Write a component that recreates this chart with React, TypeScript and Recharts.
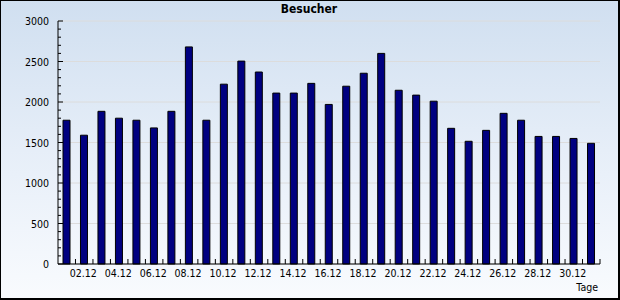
import { BarChart, Bar, XAxis, YAxis, CartesianGrid } from 'recharts'

const days = [
  '01.12', '02.12', '03.12', '04.12', '05.12', '06.12', '07.12', '08.12',
  '09.12', '10.12', '11.12', '12.12', '13.12', '14.12', '15.12', '16.12',
  '17.12', '18.12', '19.12', '20.12', '21.12', '22.12', '23.12', '24.12',
  '25.12', '26.12', '27.12', '28.12', '29.12', '30.12', '31.12',
]

const visitors = [
  1775, 1590, 1885, 1800, 1775, 1680, 1885, 2680, 1775, 2220, 2505,
  2370, 2110, 2110, 2230, 1970, 2195, 2355, 2600, 2145, 2085, 2010,
  1675, 1515, 1650, 1860, 1775, 1575, 1575, 1550, 1490,
]

const majorTicks = [0, 500, 1000, 1500, 2000, 2500, 3000]

// Zwischenstriche alle 100
const allTicks: number[] = []
majorTicks.forEach((t, i) => {
  allTicks.push(t)
  if (i < majorTicks.length - 1) {
    for (let k = 1; k < 5; k++) allTicks.push(t + k * 100)
  }
})

const data = days.map((day, i) => ({ day, value: visitors[i] }))

const FONT = '"DejaVu Sans Condensed", "Liberation Sans", sans-serif'

function YTick(props: any) {
  const { x, y, payload } = props
  const major = majorTicks.includes(payload.value)
  return (
    <g>
      <line x1={x} x2={x + (major ? 5 : 3)} y1={y} y2={y} stroke="#000" />
      {major && (
        <text x={x - 9} y={y} dy={4} textAnchor="end" fontSize={10.5} fontFamily={FONT} fill="#000">
          {payload.value}
        </text>
      )}
    </g>
  )
}

function XTick(props: any) {
  const { x, y, payload, index } = props
  const half = payload.offset ?? 8.74
  return (
    <g>
      <line x1={x + half} x2={x + half} y1={y} y2={y - 5} stroke="#000" />
      {index % 2 === 1 && (
        <text x={x - 1} y={y} dy={13} textAnchor="middle" fontSize={10.5} fontFamily={FONT} fill="#000">
          {payload.value}
        </text>
      )}
    </g>
  )
}

export default function App() {
  return (
    <div
      style={{
        position: 'absolute',
        left: 0,
        top: 0,
        width: 620,
        height: 300,
        background: 'linear-gradient(to bottom, #d0dff0 0%, #e6eef8 50%, #f9fbfe 100%)',
        boxShadow: 'inset 0 0 0 1px #000, inset -1px -1px 0 1px #000',
        fontFamily: FONT,
      }}
    >
      <div
        style={{
          position: 'absolute',
          left: 0,
          width: 618,
          top: 2,
          textAlign: 'center',
          fontWeight: 'bold',
          fontSize: 12,
        }}
      >
        Besucher
      </div>
      <div style={{ position: 'absolute', right: 22, top: 281, fontSize: 10.5 }}>Tage</div>
      <div style={{ position: 'absolute', left: 0, top: 0 }}>
        <BarChart
          width={620}
          height={300}
          data={data}
          margin={{ top: 21, right: 20, bottom: 0, left: 0 }}
        >
          <CartesianGrid
            vertical={false}
            horizontalValues={majorTicks}
            stroke="#dcdcdc"
          />
          <XAxis
            dataKey="day"
            height={36}
            interval={0}
            tickSize={0}
            tickMargin={0}
            axisLine={{ stroke: '#000' }}
            tickLine={false}
            tick={(p: any) => <XTick {...p} />}
          />
          <YAxis
            width={58}
            domain={[0, 3000]}
            ticks={allTicks}
            interval={0}
            tickSize={0}
            tickMargin={0}
            axisLine={{ stroke: '#000' }}
            tickLine={false}
            tick={(p: any) => <YTick {...p} />}
          />
          <Bar
            dataKey="value"
            fill="#000080"
            stroke="#000"
            strokeWidth={1}
            barSize={7}
            isAnimationActive={false}
          />
        </BarChart>
      </div>
    </div>
  )
}
